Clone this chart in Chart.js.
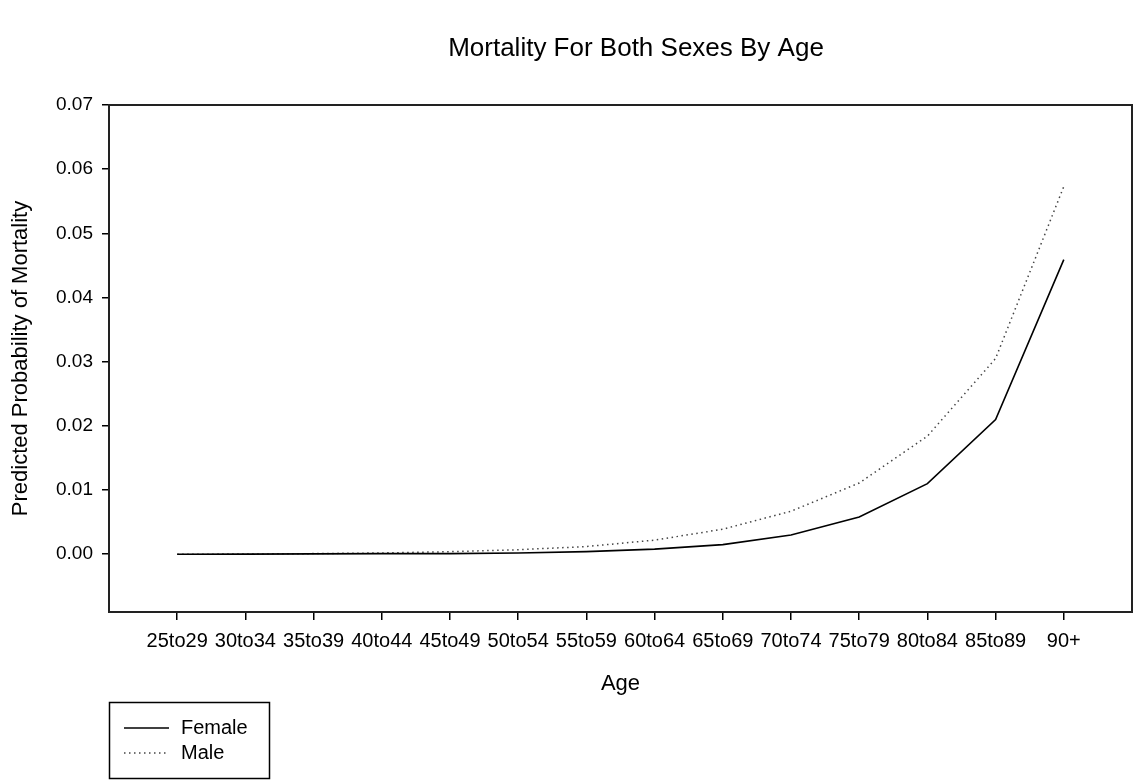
<!DOCTYPE html>
<html>
<head>
<meta charset="utf-8">
<title>Mortality For Both Sexes By Age</title>
<script src="https://cdn.jsdelivr.net/npm/chart.js@4.4.1/dist/chart.umd.min.js"></script>
<style>
  html, body { margin: 0; padding: 0; background: #fff; }
  #wrap { width: 1134px; height: 780px; }
</style>
</head>
<body>
<div id="wrap"><canvas id="mortChart" width="1134" height="780"></canvas></div>
<script>
var ageGroups = ['25to29', '30to34', '35to39', '40to44', '45to49', '50to54', '55to59',
                 '60to64', '65to69', '70to74', '75to79', '80to84', '85to89', '90+'];
var female = [0.0000, 0.00002, 0.00005, 0.0001, 0.0001, 0.0002, 0.0004,
              0.0008, 0.0015, 0.0030, 0.0058, 0.0110, 0.0210, 0.0459];
var male = [0.0000, 0.00003, 0.0001, 0.0002, 0.0004, 0.0007, 0.0012,
            0.0022, 0.0039, 0.0067, 0.0111, 0.0184, 0.0305, 0.0573];
var yTicks = [0, 0.01, 0.02, 0.03, 0.04, 0.05, 0.06, 0.07];
var chartTitle = 'Mortality For Both Sexes By Age';

var FONT = "'Liberation Sans', Arial, sans-serif";

function points(values) {
    return values.map(function (v, i) { return { x: i, y: v }; });
}

// title, box round the plot area, and the legend box under the x axis
var framePlugin = {
    id: 'frameAndLegend',
    afterDraw: function (chart) {
        var ctx = chart.ctx;
        var a = chart.chartArea;
        ctx.save();
        ctx.fillStyle = '#000';
        ctx.font = '26px ' + FONT;
        ctx.textAlign = 'center';
        ctx.textBaseline = 'middle';
        ctx.fillText(chartTitle, 636, 49);

        ctx.strokeStyle = '#222';
        ctx.lineWidth = 2;
        ctx.strokeRect(a.left, a.top, a.right - a.left, a.bottom - a.top);

        // legend
        var bx = 109, by = 702, bw = 160, bh = 76;
        ctx.lineWidth = 1.5;
        ctx.strokeStyle = '#000';
        ctx.strokeRect(bx + 0.5, by + 0.5, bw, bh);
        ctx.font = '20px ' + FONT;
        ctx.textAlign = 'left';
        chart.data.datasets.forEach(function (ds, i) {
            var y = 728 + i * 25;
            ctx.beginPath();
            ctx.setLineDash(ds.borderDash || []);
            ctx.strokeStyle = ds.borderColor;
            ctx.lineWidth = ds.borderWidth;
            ctx.moveTo(124, y);
            ctx.lineTo(169, y);
            ctx.stroke();
            ctx.setLineDash([]);
            ctx.fillText(ds.label, 181, y);
        });
        ctx.restore();
    }
};

var ctx = document.getElementById('mortChart').getContext('2d');
var mortChart = new Chart(ctx, {
    type: 'line',
    data: {
        datasets: [{
            label: 'Female',
            data: points(female),
            borderColor: '#000',
            borderWidth: 1.6,
            pointRadius: 0,
            tension: 0,
            fill: false
        }, {
            label: 'Male',
            data: points(male),
            borderColor: '#444',
            borderWidth: 1.5,
            borderDash: [1.5, 3.5],
            pointRadius: 0,
            tension: 0,
            fill: false
        }]
    },
    options: {
        responsive: false,
        animation: false,
        layout: { padding: { left: 0, right: 2, top: 105, bottom: 0 } },
        plugins: {
            legend: { display: false },
            tooltip: { enabled: false },
            title: { display: false }
        },
        scales: {
            x: {
                type: 'linear',
                min: -1,
                max: 14,
                afterBuildTicks: function (scale) {
                    scale.ticks = ageGroups.map(function (g, i) { return { value: i }; });
                },
                afterFit: function (scale) { scale.height = 168; },
                grid: { drawOnChartArea: false, drawTicks: true, tickLength: 8, color: '#000', lineWidth: 1.5 },
                border: { display: false },
                ticks: {
                    autoSkip: false,
                    maxRotation: 0,
                    color: '#000',
                    padding: 9,
                    font: { family: FONT, size: 20 },
                    callback: function (value) { return ageGroups[value]; }
                },
                title: {
                    display: true,
                    text: 'Age',
                    color: '#000',
                    font: { family: FONT, size: 22 },
                    padding: { top: 0, bottom: 83 }
                }
            },
            y: {
                type: 'linear',
                min: -0.009,
                max: 0.07,
                afterBuildTicks: function (scale) {
                    scale.ticks = yTicks.map(function (v) { return { value: v }; });
                },
                afterFit: function (scale) { scale.width = 109; },
                grid: { drawOnChartArea: false, drawTicks: true, tickLength: 7, color: '#000', lineWidth: 1.5 },
                border: { display: false },
                ticks: {
                    color: '#000',
                    padding: 9,
                    font: { family: FONT, size: 19 },
                    callback: function (value) { return value.toFixed(2); }
                },
                title: {
                    display: true,
                    text: 'Predicted Probability of Mortality',
                    color: '#000',
                    font: { family: FONT, size: 22 },
                    padding: { top: 8, bottom: 0 }
                }
            }
        }
    },
    plugins: [framePlugin]
});
</script>
</body>
</html>
